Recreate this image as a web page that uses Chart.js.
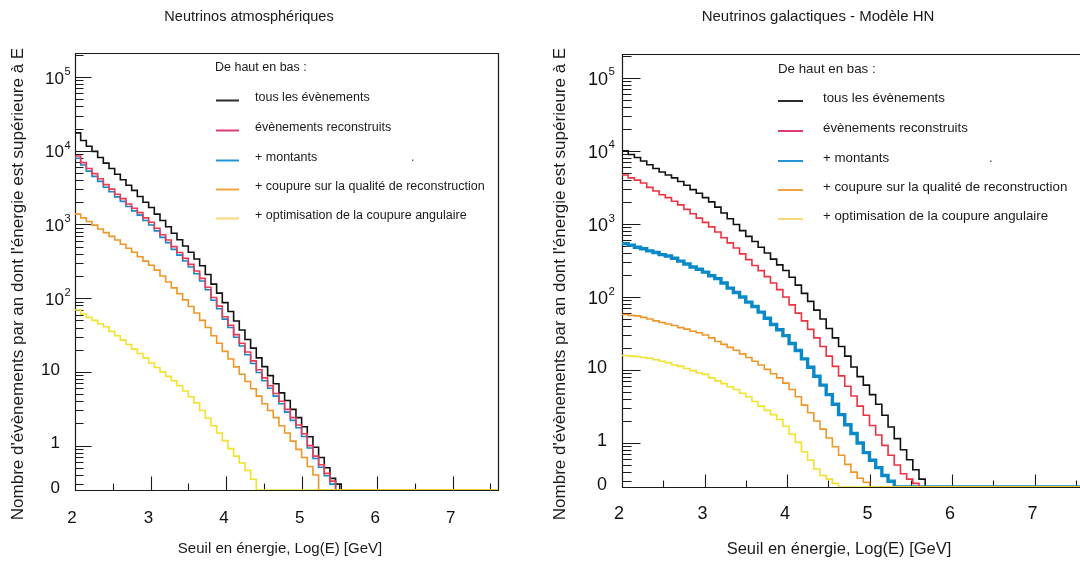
<!DOCTYPE html>
<html><head><meta charset="utf-8">
<script src="https://cdn.jsdelivr.net/npm/chart.js@4.4.0/dist/chart.umd.min.js"></script>
<style>
html,body{margin:0;padding:0;background:#fff;overflow:hidden;width:1080px;height:562px;}
#wl{position:absolute;left:0;top:0;width:540px;height:562px;}
#wr{position:absolute;left:540px;top:0;width:560px;height:562px;}
</style></head><body>
<div id="wl"><canvas id="cl"></canvas></div>
<div id="wr"><canvas id="cr"></canvas></div>
<script>
// ---- histogram definition ----
const BIN_START = 2, BIN_WIDTH = 0.075;
const X_MIN = 2, X_MAX = 7.6, Y_MIN = 0.25, Y_MAX = 2.12e5;

// ---- texts ----
const panelTitles = ['Neutrinos atmosphériques', 'Neutrinos galactiques - Modèle HN'];
const xAxisTitle = 'Seuil en énergie, Log(E) [GeV]';
const yAxisTitle = "Nombre d'évènements par an dont l'énergie est supérieure à E";
const legendHeader = 'De haut en bas :';
const seriesNames = ['tous les évènements', 'évènements reconstruits', '+ montants',
  '+ coupure sur la qualité de reconstruction', '+ optimisation de la coupure angulaire'];

// ---- ticks ----
const xTickValues = [2, 3, 4, 5, 6, 7];
const xTickLabels = ['2', '3', '4', '5', '6', '7'];
const yTickValues = [0, 1, 10, 100, 1000, 10000, 100000];
const yTickLabels = ['0', '1', '10', '10^2', '10^3', '10^4', '10^5'];

// ---- atmospheric neutrinos (events/year above threshold, per bin of log E) ----
const atmoTous = [17500, 13800, 11500, 9800, 8100, 6800, 5750, 4800, 4050, 3400, 2900, 2400, 2000, 1700, 1380, 1130, 930, 760, 620, 510, 420, 340, 275, 210, 155, 117, 87, 66, 49, 37, 27.5, 21, 15.5, 11.8, 8.9, 6.9, 5.2, 4.1, 3.1, 2.4, 1.8, 1.32, 0.95, 0.69, 0.5, 0.36, 0.3, 0];
const atmoReco = [8500, 6900, 5750, 4900, 4170, 3470, 3020, 2570, 2240, 1900, 1660, 1450, 1230, 1070, 890, 725, 617, 500, 417, 347, 288, 234, 186, 141, 102, 78, 56, 43, 32, 24.5, 18.6, 14.1, 10.7, 8.3, 6.5, 5.1, 4.0, 3.1, 2.4, 1.9, 1.45, 1.0, 0.72, 0.55, 0.42, 0.33, 0];
const atmoMontants = [7900, 6400, 5300, 4500, 3850, 3200, 2780, 2370, 2060, 1750, 1530, 1340, 1130, 985, 820, 668, 568, 460, 384, 320, 265, 215, 171, 130, 94, 72, 52, 40, 29.5, 22.5, 17.1, 13, 9.8, 7.6, 6.0, 4.7, 3.7, 2.85, 2.2, 1.75, 1.33, 0.93, 0.67, 0.51, 0.39, 0.3, 0];
const atmoQualite = [1380, 1230, 1100, 980, 870, 775, 690, 615, 540, 475, 420, 365, 318, 280, 240, 200, 166, 138, 115, 95, 77, 63, 50, 40, 31, 24.5, 19, 15, 11.7, 9.3, 7.4, 5.9, 4.7, 3.7, 3.0, 2.4, 1.86, 1.48, 1.15, 0.89, 0.69, 0.52, 0.4, 0];
const atmoAngle = [69, 61, 55, 50, 45, 41, 35.5, 31, 27, 23.5, 20.4, 17.8, 15.5, 13.2, 11.5, 10, 8.7, 7.6, 6.5, 5.5, 4.6, 3.8, 3.0, 2.35, 1.86, 1.48, 1.17, 0.91, 0.72, 0.58, 0.46, 0.35, 0];

// ---- galactic neutrinos, HN model ----
const galTous = [10000, 8900, 8100, 7250, 6450, 5750, 5130, 4680, 4270, 3800, 3390, 2950, 2630, 2290, 2000, 1700, 1410, 1175, 980, 810, 676, 575, 480, 400, 330, 275, 230, 186, 145, 112, 87, 66, 50, 37, 27.5, 21, 15.5, 11, 8.1, 6.2, 4.6, 3.4, 2.4, 1.66, 1.15, 0.81, 0.59, 0.43, 0.32, 0];
const galReco = [4680, 4270, 3980, 3630, 3160, 2820, 2510, 2290, 2040, 1820, 1580, 1380, 1200, 1050, 912, 776, 646, 550, 468, 389, 324, 269, 229, 190, 155, 126, 100, 78, 60, 47, 36, 27.5, 21, 15.5, 11.2, 8.3, 6.0, 4.4, 3.2, 2.4, 1.74, 1.29, 0.93, 0.68, 0.5, 0.38, 0.32, 0.28, 0];
const galMontants = [537, 513, 479, 457, 427, 407, 380, 363, 339, 309, 282, 257, 240, 219, 195, 178, 155, 132, 115, 100, 85, 74, 62, 51, 42, 35.5, 29.5, 23, 18.5, 14.2, 10.9, 8.2, 6.2, 4.6, 3.4, 2.45, 1.78, 1.35, 1.0, 0.74, 0.58, 0.46, 0.36, 0.3, 0];
const galQualite = [57.5, 56, 55, 52.5, 50, 47, 44.7, 42.7, 40.7, 38, 36.3, 33.9, 32.4, 30.2, 27.5, 24.5, 22.4, 20.4, 18.6, 16.6, 14.8, 13.2, 11.7, 10.2, 8.9, 7.8, 6.6, 5.4, 4.3, 3.3, 2.6, 2.0, 1.55, 1.17, 0.89, 0.68, 0.51, 0.4, 0.33, 0.29, 0];
const galAngle = [15.8, 15.5, 15.3, 14.8, 14.5, 13.8, 13.2, 12.6, 11.7, 11.2, 10.5, 9.8, 9.1, 8.7, 7.8, 7.1, 6.5, 5.9, 5.4, 4.8, 4.3, 3.7, 3.2, 2.8, 2.45, 2.1, 1.7, 1.32, 1.02, 0.76, 0.58, 0.44, 0.36, 0.32, 0.28, 0];

const FONT = '"Liberation Sans", Arial, Helvetica, sans-serif';

function toPoints(vals) {
  const pts = vals.map((v, i) => ({ x: BIN_START + i * BIN_WIDTH, y: v > 0 ? v : Y_MIN }));
  const last = vals[vals.length - 1];
  pts.push({ x: X_MAX + 0.1, y: last > 0 ? last : Y_MIN });
  return pts;
}

function makeDatasets(series, colors, widths) {
  // draw order: yellow on top, black at the bottom
  const orders = [4, 2, 3, 1, 0];
  return series.map((s, i) => ({
    label: seriesNames[i], data: toPoints(s), borderColor: colors[i], borderWidth: widths[i],
    stepped: 'before', fill: false, pointRadius: 0, order: orders[i], borderJoinStyle: 'miter', borderCapStyle: 'butt'
  }));
}

function decorations(cfg) {
  return {
    id: 'deco' + cfg.id,
    beforeDatasetsDraw(chart) {
      const ctx = chart.ctx, a = chart.chartArea, xs = chart.scales.x, ys = chart.scales.y;
      ctx.save();
      ctx.strokeStyle = '#1a1a1a'; ctx.lineWidth = 1.2;
      const L = Math.round(a.left) + 0.5, R = Math.round(a.right) + 0.5, T = Math.round(a.top) + 0.5, B = Math.round(a.bottom) + 0.5;
      ctx.beginPath();
      ctx.moveTo(L, T); ctx.lineTo(R, T); ctx.lineTo(R, B); ctx.lineTo(L, B); ctx.closePath();
      ctx.stroke();
      // y ticks (inside)
      ctx.lineWidth = 1.1;
      ctx.beginPath();
      for (let k = -1; k <= 5; k++) {
        for (let m = 1; m <= 9; m++) {
          const v = m * Math.pow(10, k);
          if (v <= Y_MIN * 1.01 || v >= Y_MAX) continue;
          const y = Math.round(ys.getPixelForValue(v)) + 0.5;
          const len = m === 1 ? cfg.majY : cfg.minY;
          ctx.moveTo(L, y); ctx.lineTo(L + len, y);
        }
      }
      // x ticks (inside)
      for (let x = X_MIN + 0.5; x < X_MAX; x += 0.5) {
        const px = Math.round(xs.getPixelForValue(x)) + 0.5;
        const len = Number.isInteger(x) ? cfg.majX : cfg.minX;
        ctx.moveTo(px, B); ctx.lineTo(px, B - len);
      }
      ctx.stroke();

      ctx.fillStyle = '#111';
      // y tick labels
      yTickValues.forEach((v, i) => {
        const lab = yTickLabels[i];
        const y = ys.getPixelForValue(v);
        ctx.textBaseline = 'middle';
        if (lab.indexOf('^') >= 0) {
          const [base, exp] = lab.split('^');
          ctx.font = cfg.tickFont + 'px ' + FONT;
          ctx.textAlign = 'right';
          ctx.fillText(base, cfg.yLabRight, y + cfg.expBaseDy);
          ctx.font = cfg.expFont + 'px ' + FONT;
          ctx.textAlign = 'left';
          ctx.fillText(exp, cfg.yLabRight + 0.5, y + cfg.expBaseDy - cfg.tickFont * 0.42);
        } else {
          ctx.font = cfg.tickFont + 'px ' + FONT;
          ctx.textAlign = 'right';
          ctx.fillText(lab, cfg.yPlainRight, v === 0 ? y - 2 : y + cfg.plainDy);
        }
      });
      // x tick labels
      ctx.font = cfg.tickFont + 'px ' + FONT;
      ctx.textAlign = 'center'; ctx.textBaseline = 'middle';
      xTickValues.forEach((v, i) => {
        ctx.fillText(xTickLabels[i], xs.getPixelForValue(v) + (i === 0 ? -3 : -2), cfg.xLabY);
      });
      // title
      ctx.fillStyle = '#1a1a1a';
      ctx.font = cfg.titleSize + 'px ' + FONT;
      ctx.fillText(panelTitles[cfg.id], cfg.titleX, cfg.titleY);
      // axis titles
      ctx.font = cfg.axTitleSize + 'px ' + FONT;
      ctx.fillText(xAxisTitle, cfg.axTitleX, cfg.axTitleY);
      ctx.save();
      ctx.translate(cfg.yTitleX, cfg.yTitleY);
      ctx.rotate(-Math.PI / 2);
      ctx.font = cfg.yTitleSize + 'px ' + FONT;
      ctx.fillText(yAxisTitle, 0, 0);
      ctx.restore();
      // legend
      const lg = cfg.legend;
      ctx.font = lg.size + 'px ' + FONT;
      ctx.textAlign = 'left';
      ctx.fillText(legendHeader, lg.x, lg.headerY);
      seriesNames.forEach((name, i) => {
        ctx.fillStyle = '#1a1a1a';
        ctx.fillText(name, lg.textX, lg.rowsY[i]);
        ctx.strokeStyle = cfg.legendColors[i];
        ctx.lineWidth = 2;
        ctx.beginPath();
        ctx.moveTo(lg.lineX1, lg.rowsY[i] + lg.lineDy);
        ctx.lineTo(lg.lineX2, lg.rowsY[i] + lg.lineDy);
        ctx.stroke();
      });
      ctx.fillStyle = '#444';
      ctx.fillText('.', cfg.dot.x, cfg.dot.y);
      ctx.restore();
    }
  };
}

function makeChart(canvasId, series, cfg) {
  return new Chart(document.getElementById(canvasId), {
    type: 'line',
    data: { datasets: makeDatasets(series, cfg.colors, cfg.widths) },
    options: {
      responsive: true, maintainAspectRatio: false, animation: false, events: [],
      layout: { padding: cfg.pad },
      plugins: { legend: { display: false }, tooltip: { enabled: false }, title: { display: false } },
      scales: {
        x: { type: 'linear', min: X_MIN, max: X_MAX, display: false },
        y: { type: 'logarithmic', min: Y_MIN, max: Y_MAX, display: false }
      }
    },
    plugins: [decorations(cfg)]
  });
}

const legendColors = ['#2b2b2b', '#dc3d6e', '#2395d6', '#f2a33e', '#f8d878'];

makeChart('cl', [atmoTous, atmoReco, atmoMontants, atmoQualite, atmoAngle], {
  id: 0,
  pad: { left: 75, top: 53, right: 42, bottom: 72 },
  colors: ['#111111', '#ec3a52', '#1b86c8', '#f09628', '#f3e12c'],
  widths: [1.6, 1.6, 1.6, 1.6, 1.6],
  legendColors,
  majY: 16, minY: 8, majX: 14, minX: 7,
  tickFont: 17, expFont: 11, yLabRight: 64, yPlainRight: 60, expBaseDy: 2, plainDy: -2,
  xLabY: 518,
  titleX: 249, titleY: 17, titleSize: 14.5,
  axTitleX: 280, axTitleY: 549, axTitleSize: 15,
  yTitleX: 18, yTitleY: 284, yTitleSize: 17,
  legend: { x: 215, headerY: 68, lineX1: 216, lineX2: 239, textX: 255, rowsY: [98, 128, 158, 187, 216], lineDy: 2.5, size: 12.5 },
  dot: { x: 411, y: 158 }
});

makeChart('cr', [galTous, galReco, galMontants, galQualite, galAngle], {
  id: 1,
  pad: { left: 82, top: 54, right: 16, bottom: 75 },
  colors: ['#111111', '#ee3340', '#0a89c9', '#f09628', '#f3e12c'],
  widths: [1.6, 1.6, 3.4, 1.6, 1.6],
  legendColors,
  majY: 18, minY: 9, majX: 13, minX: 7,
  tickFont: 18, expFont: 11.5, yLabRight: 68, yPlainRight: 67, expBaseDy: 2, plainDy: -2,
  xLabY: 514,
  titleX: 278, titleY: 17, titleSize: 15,
  axTitleX: 299, axTitleY: 549, axTitleSize: 16.5,
  yTitleX: 20, yTitleY: 284, yTitleSize: 17,
  legend: { x: 238, headerY: 69, lineX1: 238, lineX2: 263, textX: 283, rowsY: [98, 128, 158, 187, 216], lineDy: 3, size: 13.3 },
  dot: { x: 449, y: 158 }
});
</script>
</body></html>
